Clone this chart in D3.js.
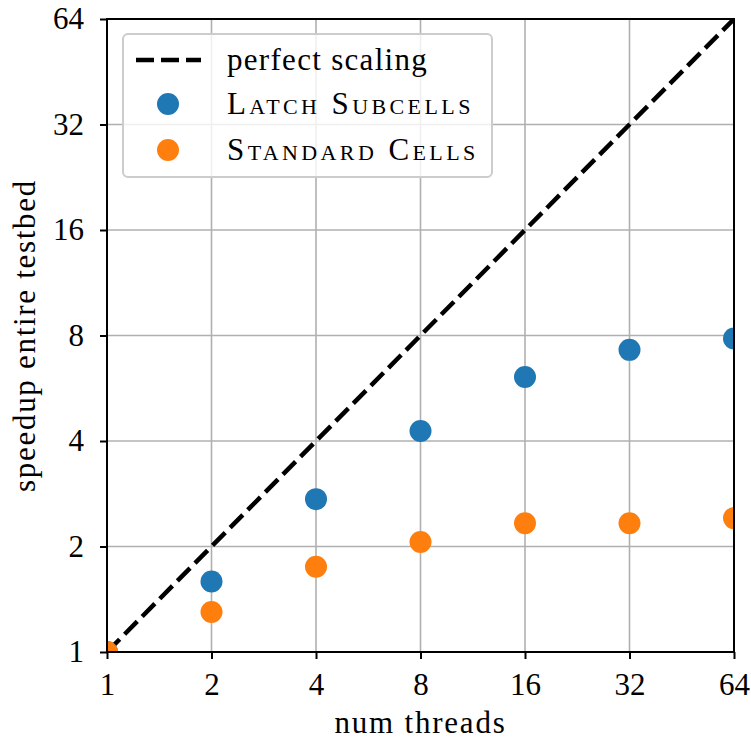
<!DOCTYPE html>
<html>
<head>
<meta charset="utf-8">
<script src="https://cdn.jsdelivr.net/npm/d3@7"></script>
<style>
  body { margin: 0; background: #fff; }
  svg text { font-family: "Liberation Serif", "DejaVu Serif", serif; fill: #000; }
</style>
</head>
<body>
<svg id="chart" width="751" height="742"></svg>
<script>
// Thread counts and measured speedups
const threads = [1, 2, 4, 8, 16, 32, 64];
const latchSubcells = [1.0, 1.59, 2.73, 4.27, 6.09, 7.28, 7.84];
const standardCells = [1.0, 1.30, 1.75, 2.06, 2.33, 2.33, 2.41];
const tickValues = [1, 2, 4, 8, 16, 32, 64];
const seriesNames = ["perfect scaling", "Latch Subcells", "Standard Cells"];
const colors = ["#1f77b4", "#ff7f0e"];

const svg = d3.select("#chart");
const m = { left: 107, right: 734, top: 19, bottom: 652 };
const FS = 31;
const DASH = "18,7";

const x = d3.scaleLog().base(2).domain([1, 64]).range([m.left, m.right]);
const y = d3.scaleLog().base(2).domain([1, 64]).range([m.bottom, m.top]);

svg.append("defs").append("clipPath").attr("id", "plotclip")
  .append("rect")
  .attr("x", m.left).attr("y", m.top)
  .attr("width", m.right - m.left).attr("height", m.bottom - m.top);

// grid
const grid = svg.append("g").attr("stroke", "#b0b0b0").attr("stroke-width", 1.6);
tickValues.forEach(v => {
  grid.append("line").attr("x1", x(v)).attr("x2", x(v)).attr("y1", m.top).attr("y2", m.bottom);
  grid.append("line").attr("y1", y(v)).attr("y2", y(v)).attr("x1", m.left).attr("x2", m.right);
});

const plot = svg.append("g").attr("clip-path", "url(#plotclip)");

// perfect scaling reference line
plot.append("path")
  .datum(threads)
  .attr("d", d3.line().x(d => x(d)).y(d => y(d)))
  .attr("fill", "none")
  .attr("stroke", "#000")
  .attr("stroke-width", 4.5)
  .attr("stroke-dasharray", DASH);

[latchSubcells, standardCells].forEach((vals, i) => {
  plot.append("g").selectAll("circle")
    .data(threads.map((t, k) => [t, vals[k]]))
    .join("circle")
    .attr("cx", d => x(d[0]))
    .attr("cy", d => y(d[1]))
    .attr("r", 11)
    .attr("fill", colors[i]);
});

// axes
const fmt = d => String(d);
const xAxis = svg.append("g").attr("transform", `translate(0,${m.bottom})`)
  .call(d3.axisBottom(x).tickValues(tickValues).tickFormat(fmt).tickSize(7).tickPadding(14));
const yAxis = svg.append("g").attr("transform", `translate(${m.left},0)`)
  .call(d3.axisLeft(y).tickValues(tickValues).tickFormat(fmt).tickSize(7).tickPadding(16));
[xAxis, yAxis].forEach(a => {
  a.select(".domain").remove();
  a.selectAll(".tick line").attr("stroke", "#000").attr("stroke-width", 2);
  a.selectAll(".tick text").attr("font-size", FS).attr("font-family", "Liberation Serif, DejaVu Serif, serif");
});

// spines
svg.append("rect")
  .attr("x", m.left).attr("y", m.top)
  .attr("width", m.right - m.left).attr("height", m.bottom - m.top)
  .attr("fill", "none").attr("stroke", "#000").attr("stroke-width", 2);

// axis labels
svg.append("text").attr("x", (m.left + m.right) / 2).attr("y", 733)
  .attr("text-anchor", "middle").attr("font-size", FS).attr("letter-spacing", 1.8).text("num threads");
svg.append("text")
  .attr("transform", `translate(35,${(m.top + m.bottom) / 2}) rotate(-90)`)
  .attr("text-anchor", "middle").attr("font-size", FS).attr("letter-spacing", 1.7).text("speedup entire testbed");

// legend
const lg = svg.append("g");
lg.append("rect")
  .attr("x", 123).attr("y", 34).attr("width", 369).attr("height", 143)
  .attr("rx", 5).attr("fill", "#fff").attr("fill-opacity", 0.8)
  .attr("stroke", "#cccccc").attr("stroke-width", 2);
const rows = [60, 104, 150];
lg.append("line").attr("x1", 136).attr("x2", 201).attr("y1", rows[0]).attr("y2", rows[0])
  .attr("stroke", "#000").attr("stroke-width", 4.5).attr("stroke-dasharray", DASH);
colors.forEach((c, i) => {
  lg.append("circle").attr("cx", 168).attr("cy", rows[i + 1]).attr("r", 11).attr("fill", c);
});
seriesNames.forEach((name, i) => {
  lg.append("text").attr("x", 227).attr("y", rows[i]).attr("dy", "0.33em")
    .attr("font-size", FS)
    .attr("letter-spacing", i === 0 ? 1.3 : 3.4)
    .style("font-variant", i === 0 ? "normal" : "small-caps")
    .text(name);
});
</script>
</body>
</html>
